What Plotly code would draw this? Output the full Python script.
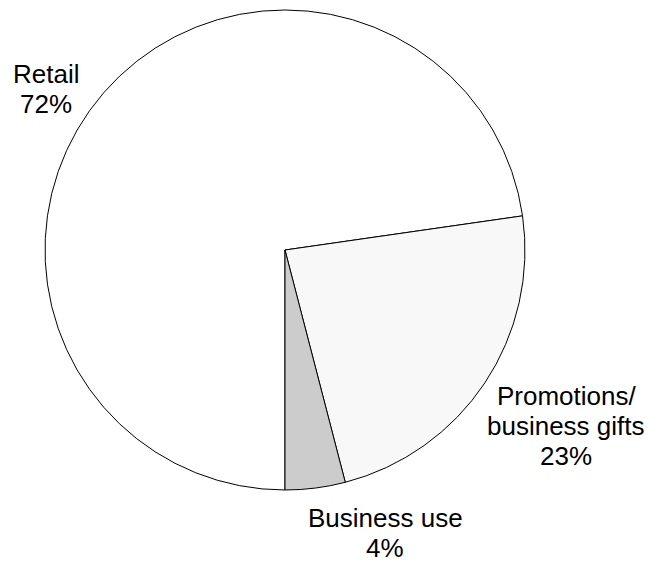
import plotly.graph_objects as go

categories = ["Retail", "Promotions/<br>business gifts", "Business use"]
shares = [72, 23, 4]
slice_colors = ["#ffffff", "#f8f8f8", "#cccccc"]
# centre x and first-line centre y of each label block, in canvas pixels
label_px = [(46, 74), (566, 396), (385, 518)]
LINE_PITCH = 30

W, H = 652, 563
ML, MR, MT, MB = 45, 127, 10, 73
PW, PH = W - ML - MR, H - MT - MB

fig = go.Figure(go.Pie(
    labels=categories,
    values=shares,
    sort=False,
    direction="clockwise",
    rotation=180,
    marker=dict(colors=slice_colors, line=dict(color="#000000", width=1)),
    textinfo="none",
    hoverinfo="label+value",
    showlegend=False,
    automargin=False,
))

for cat, val, (px, py) in zip(categories, shares, label_px):
    lines = cat.split("<br>") + [f"{val}%"]
    for i, line in enumerate(lines):
        ly = py + i * LINE_PITCH
        fig.add_annotation(
            text=line,
            xref="paper", yref="paper",
            x=(px - ML) / PW, y=1 - (ly - MT) / PH,
            xanchor="center", yanchor="middle",
            showarrow=False, align="center",
            font=dict(family="Liberation Sans, Arial, sans-serif", size=26, color="#000000"),
        )

fig.update_layout(
    width=W, height=H,
    margin=dict(l=ML, r=MR, t=MT, b=MB),
    paper_bgcolor="#ffffff",
    plot_bgcolor="#ffffff",
)

fig.write_html("out.html")
